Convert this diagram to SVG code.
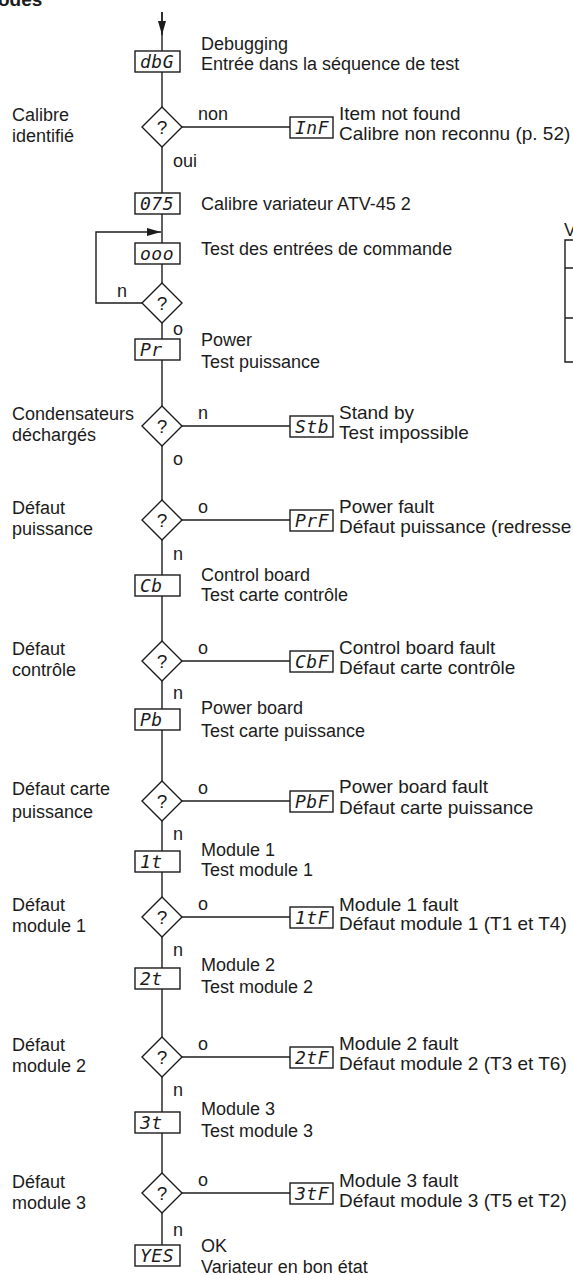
<svg xmlns="http://www.w3.org/2000/svg" width="573" height="1275" viewBox="0 0 573 1275">
<defs>
<marker id="ah" viewBox="0 0 14 8" refX="14" refY="4" markerWidth="14" markerHeight="8" markerUnits="userSpaceOnUse" orient="auto"><path d="M0,0 L14,4 L0,8 Z" fill="#1c1c1c"/></marker>
<style>
.t{font-family:"Liberation Sans",Arial,sans-serif;font-size:18px;fill:#1c1c1c}
.r{font-family:"Liberation Sans",Arial,sans-serif;font-size:19px;fill:#1c1c1c}
.b{font-family:"Liberation Sans",Arial,sans-serif;font-size:19px;font-weight:bold;fill:#1c1c1c}
.s{font-family:"DejaVu Sans Mono","Liberation Mono",monospace;font-style:italic;font-size:18px;letter-spacing:0.5px;fill:#1c1c1c}
.q{font-family:"Liberation Sans",Arial,sans-serif;font-size:19px;fill:#1c1c1c;text-anchor:middle}
.bx{fill:#fff;stroke:#1c1c1c;stroke-width:1.4}
.ln{fill:none;stroke:#1c1c1c;stroke-width:1.4}
</style>
</defs>
<rect width="573" height="1275" fill="#fff"/>
<text class="b" x="-2" y="6">odes</text>

<g id="table">
<text class="t" x="564" y="236">V</text>
<path class="ln" d="M575,240 H565 V362 H575 M565,268 H575 M565,318 H575"/>
</g>

<g id="connectors">
<path class="ln" d="M162,12 V1245"/>
<path class="ln" d="M162,12 V35" marker-end="url(#ah)"/>
<path class="ln" d="M142,303 H96 V232 H161" marker-end="url(#ah)"/>
<path class="ln" d="M182,127 H290"/>
<path class="ln" d="M182,426 H290"/>
<path class="ln" d="M182,520 H290"/>
<path class="ln" d="M182,661 H290"/>
<path class="ln" d="M182,801 H290"/>
<path class="ln" d="M182,917 H290"/>
<path class="ln" d="M182,1057 H290"/>
<path class="ln" d="M182,1193 H290"/>
<text class="t" x="198" y="120">non</text>
<text class="t" x="173" y="167">oui</text>
<text class="t" x="117" y="297">n</text>
<text class="t" x="173" y="335">o</text>
<text class="t" x="198" y="419">n</text>
<text class="t" x="173" y="465">o</text>
<text class="t" x="198" y="513">o</text>
<text class="t" x="173" y="560">n</text>
<text class="t" x="198" y="654">o</text>
<text class="t" x="173" y="699">n</text>
<text class="t" x="198" y="794">o</text>
<text class="t" x="173" y="840">n</text>
<text class="t" x="198" y="910">o</text>
<text class="t" x="173" y="956">n</text>
<text class="t" x="198" y="1050">o</text>
<text class="t" x="173" y="1096">n</text>
<text class="t" x="198" y="1186">o</text>
<text class="t" x="173" y="1236">n</text>
</g>

<g id="dbG"><rect class="bx" x="135" y="51" width="45" height="21"/><text class="s" x="140" y="68">dbG</text>
<text class="t" x="201" y="50">Debugging</text><text class="t" x="201" y="70">Entrée dans la séquence de test</text></g>

<g id="q1"><polygon class="bx" points="162,107 182,127 162,147 142,127"/><text class="q" x="162" y="134">?</text>
<text class="t" x="12" y="121">Calibre</text><text class="t" x="12" y="142">identifié</text></g>
<g id="InF"><rect class="bx" x="290" y="117" width="43" height="21"/><text class="s" x="295" y="134">InF</text>
<text class="r" x="339" y="120">Item not found</text><text class="r" x="339" y="140">Calibre non reconnu (p. 52)</text></g>

<g id="c075"><rect class="bx" x="135" y="193" width="45" height="21"/><text class="s" x="140" y="210">075</text>
<text class="t" x="201" y="210">Calibre variateur ATV-45 2</text></g>

<g id="ooo"><rect class="bx" x="135" y="243" width="45" height="21"/><text class="s" x="140" y="260">ooo</text>
<text class="t" x="201" y="255">Test des entrées de commande</text></g>

<g id="q2"><polygon class="bx" points="162,283 182,303 162,323 142,303"/><text class="q" x="162" y="310">?</text></g>

<g id="Pr"><rect class="bx" x="135" y="339" width="45" height="21"/><text class="s" x="140" y="356">Pr</text>
<text class="t" x="201" y="346">Power</text><text class="t" x="201" y="368">Test puissance</text></g>

<g id="q3"><polygon class="bx" points="162,406 182,426 162,446 142,426"/><text class="q" x="162" y="433">?</text>
<text class="t" x="12" y="420">Condensateurs</text><text class="t" x="12" y="441">déchargés</text></g>
<g id="Stb"><rect class="bx" x="290" y="416" width="43" height="21"/><text class="s" x="295" y="433">Stb</text>
<text class="r" x="339" y="419">Stand by</text><text class="r" x="339" y="439">Test impossible</text></g>

<g id="q4"><polygon class="bx" points="162,500 182,520 162,540 142,520"/><text class="q" x="162" y="527">?</text>
<text class="t" x="12" y="514">Défaut</text><text class="t" x="12" y="535">puissance</text></g>
<g id="PrF"><rect class="bx" x="290" y="510" width="43" height="21"/><text class="s" x="295" y="527">PrF</text>
<text class="r" x="339" y="513">Power fault</text><text class="r" x="339" y="533">Défaut puissance (redresse</text></g>

<g id="Cb"><rect class="bx" x="135" y="575" width="45" height="21"/><text class="s" x="140" y="592">Cb</text>
<text class="t" x="201" y="581">Control board</text><text class="t" x="201" y="601">Test carte contrôle</text></g>

<g id="q5"><polygon class="bx" points="162,641 182,661 162,681 142,661"/><text class="q" x="162" y="668">?</text>
<text class="t" x="12" y="655">Défaut</text><text class="t" x="12" y="676">contrôle</text></g>
<g id="CbF"><rect class="bx" x="290" y="651" width="43" height="21"/><text class="s" x="295" y="668">CbF</text>
<text class="r" x="339" y="654">Control board fault</text><text class="r" x="339" y="674">Défaut carte contrôle</text></g>

<g id="Pb"><rect class="bx" x="135" y="709" width="45" height="21"/><text class="s" x="140" y="726">Pb</text>
<text class="t" x="201" y="714">Power board</text><text class="t" x="201" y="737">Test carte puissance</text></g>

<g id="q6"><polygon class="bx" points="162,781 182,801 162,821 142,801"/><text class="q" x="162" y="808">?</text>
<text class="t" x="12" y="795">Défaut carte</text><text class="t" x="12" y="818">puissance</text></g>
<g id="PbF"><rect class="bx" x="290" y="791" width="43" height="21"/><text class="s" x="295" y="808">PbF</text>
<text class="r" x="339" y="793">Power board fault</text><text class="r" x="339" y="814">Défaut carte puissance</text></g>

<g id="t1"><rect class="bx" x="135" y="851" width="45" height="21"/><text class="s" x="140" y="868">1t</text>
<text class="t" x="201" y="856">Module 1</text><text class="t" x="201" y="876">Test module 1</text></g>

<g id="q7"><polygon class="bx" points="162,897 182,917 162,937 142,917"/><text class="q" x="162" y="924">?</text>
<text class="t" x="12" y="911">Défaut</text><text class="t" x="12" y="932">module 1</text></g>
<g id="t1F"><rect class="bx" x="290" y="907" width="43" height="21"/><text class="s" x="295" y="924">1tF</text>
<text class="r" x="339" y="911">Module 1 fault</text><text class="r" x="339" y="930">Défaut module 1 (T1 et T4)</text></g>

<g id="t2"><rect class="bx" x="135" y="968" width="45" height="21"/><text class="s" x="140" y="985">2t</text>
<text class="t" x="201" y="971">Module 2</text><text class="t" x="201" y="993">Test module 2</text></g>

<g id="q8"><polygon class="bx" points="162,1037 182,1057 162,1077 142,1057"/><text class="q" x="162" y="1064">?</text>
<text class="t" x="12" y="1051">Défaut</text><text class="t" x="12" y="1072">module 2</text></g>
<g id="t2F"><rect class="bx" x="290" y="1047" width="43" height="21"/><text class="s" x="295" y="1064">2tF</text>
<text class="r" x="339" y="1050">Module 2 fault</text><text class="r" x="339" y="1070">Défaut module 2 (T3 et T6)</text></g>

<g id="t3"><rect class="bx" x="135" y="1112" width="45" height="21"/><text class="s" x="140" y="1129">3t</text>
<text class="t" x="201" y="1115">Module 3</text><text class="t" x="201" y="1137">Test module 3</text></g>

<g id="q9"><polygon class="bx" points="162,1173 182,1193 162,1213 142,1193"/><text class="q" x="162" y="1200">?</text>
<text class="t" x="12" y="1188">Défaut</text><text class="t" x="12" y="1209">module 3</text></g>
<g id="t3F"><rect class="bx" x="290" y="1183" width="43" height="21"/><text class="s" x="295" y="1200">3tF</text>
<text class="r" x="339" y="1187">Module 3 fault</text><text class="r" x="339" y="1207">Défaut module 3 (T5 et T2)</text></g>

<g id="YES"><rect class="bx" x="135" y="1245" width="45" height="21"/><text class="s" x="140" y="1262">YES</text>
<text class="t" x="201" y="1252">OK</text><text class="t" x="201" y="1273">Variateur en bon état</text></g>
</svg>
